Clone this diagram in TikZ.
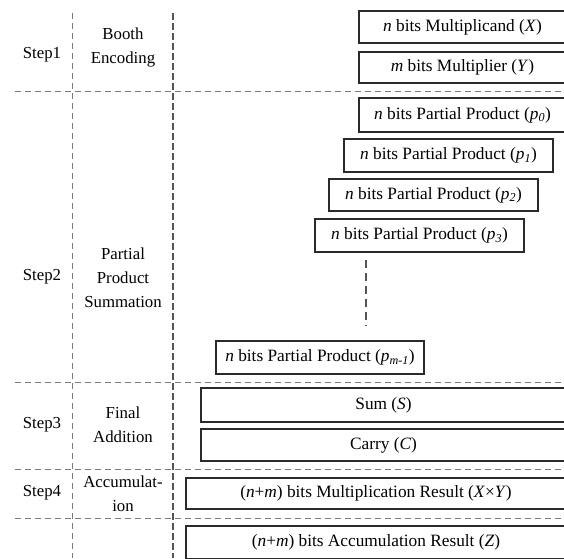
\documentclass[tikz,border=0pt]{standalone}
\usepackage{fontspec}
\setmainfont{Liberation Serif}
\definecolor{boxline}{HTML}{2A2A2A}
\definecolor{gridline}{HTML}{7A7A7A}
\definecolor{gridbold}{HTML}{555555}
\begin{document}
\begin{tikzpicture}[x=1pt,y=-1pt,
  stepbox/.style={draw=boxline, line width=1.3pt, inner sep=0pt, font=\fontsize{17.3}{20}\selectfont},
  lbl/.style={align=center, inner sep=0pt, font=\fontsize{16.8}{24}\selectfont},
  hgrid/.style={draw=gridline, line width=0.9pt, dash pattern=on 6pt off 4pt},
  vthin/.style={draw=gridline, line width=0.8pt, dash pattern=on 6pt off 4pt},
  vbold/.style={draw=gridbold, line width=1.6pt, dash pattern=on 7pt off 3pt},
  dots/.style={draw=gridbold, line width=1.4pt, dash pattern=on 8pt off 5pt}]
\useasboundingbox (0,0) rectangle (564,558);
\clip (0,0) rectangle (564,558);
% grid lines
\coordinate (v1t) at (72,13);  \coordinate (v1b) at (72,558);
\coordinate (v2t) at (173,13); \coordinate (v2b) at (173,558);
\coordinate (h1l) at (15,91);  \coordinate (h1r) at (564,91);
\coordinate (h2l) at (15,382); \coordinate (h2r) at (564,382);
\coordinate (h3l) at (15,469); \coordinate (h3r) at (564,469);
\coordinate (h4l) at (15,518); \coordinate (h4r) at (564,518);
\draw[hgrid] (h1l) -- (h1r);
\draw[hgrid] (h2l) -- (h2r);
\draw[hgrid] (h3l) -- (h3r);
\draw[hgrid] (h4l) -- (h4r);
\draw[vthin] (v1t) -- (v1b);
\draw[vbold] (v2t) -- (v2b);
% left labels
\node[lbl] (s1) at (42,55) {Step1};
\node[lbl] (t1) at (123,47.5) {Booth\\Encoding};
\node[lbl] (s2) at (42,277) {Step2};
\node[lbl] (t2) at (123,278) {Partial\\Product\\Summation};
\node[lbl] (s3) at (42,425) {Step3};
\node[lbl] (t3) at (123,425) {Final\\Addition};
\node[lbl] (s4) at (42,493) {Step4};
\node[lbl] (t4) at (123,494) {Accumulat-\\ion};
% boxes
\node[stepbox, minimum width=207pt, minimum height=32pt] (X) at (462.5,27) {\textit{n} bits Multiplicand (\textit{X})};
\node[stepbox, minimum width=207pt, minimum height=31pt] (Y) at (462.5,67.5) {\textit{m} bits Multiplier (\textit{Y})};
\node[stepbox, minimum width=207pt, minimum height=34pt] (p0) at (462.5,115) {\textit{n} bits Partial Product (\textit{p}\textsubscript{\textit{0}})};
\node[stepbox, minimum width=209pt, minimum height=33pt] (p1) at (448.5,155.5) {\textit{n} bits Partial Product (\textit{p}\textsubscript{\textit{1}})};
\node[stepbox, minimum width=209pt, minimum height=32pt] (p2) at (433.5,195) {\textit{n} bits Partial Product (\textit{p}\textsubscript{\textit{2}})};
\node[stepbox, minimum width=209pt, minimum height=33pt] (p3) at (419.5,235.5) {\textit{n} bits Partial Product (\textit{p}\textsubscript{\textit{3}})};
\node[stepbox, minimum width=208pt, minimum height=33pt] (pm) at (320,357.5) {\textit{n} bits Partial Product (\textit{p}\textsubscript{\textit{m}-\textit{1}})};
\node[stepbox, minimum width=365pt, minimum height=34pt] (S) at (383.5,405) {Sum (\textit{S})};
\node[stepbox, minimum width=365pt, minimum height=32pt] (C) at (383.5,445) {Carry (\textit{C})};
\node[stepbox, minimum width=380pt, minimum height=31pt] (XY) at (376,493.5) {(\textit{n}+\textit{m}) bits Multiplication Result (\textit{X}×\textit{Y})};
\node[stepbox, minimum width=380pt, minimum height=33pt] (Z) at (376,542.5) {(\textit{n}+\textit{m}) bits Accumulation Result (\textit{Z})};
% vertical ellipsis
\coordinate (dA) at (366,260);
\coordinate (dB) at (366,326);
\draw[dots] (dA) -- (dB);
\end{tikzpicture}
\end{document}
